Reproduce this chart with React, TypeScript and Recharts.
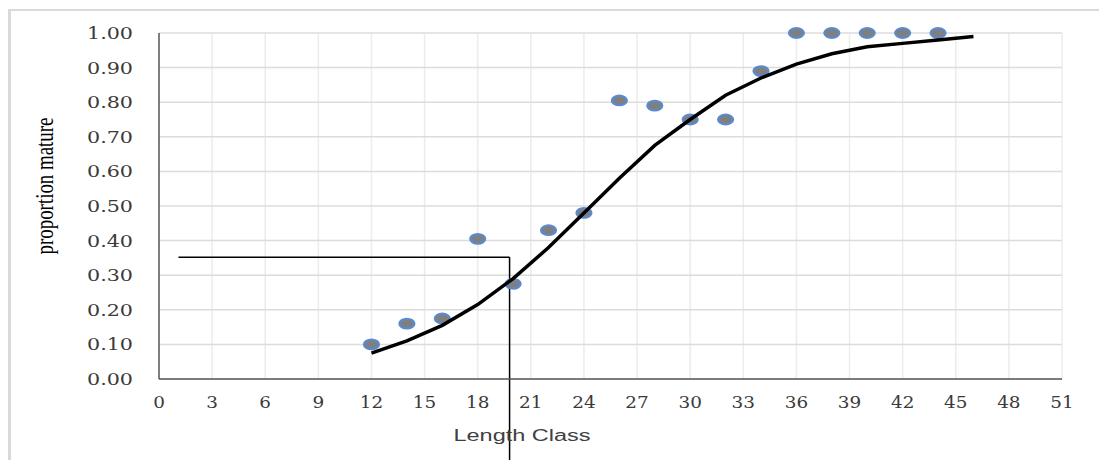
import React from 'react';
import { ComposedChart, Scatter, XAxis, YAxis, CartesianGrid, ReferenceLine, Label } from 'recharts';

// observed proportion mature per length class
const lengthClass = [12, 14, 16, 18, 20, 22, 24, 26, 28, 30, 32, 34, 36, 38, 40, 42, 44];
const observed = [0.1, 0.16, 0.175, 0.405, 0.275, 0.43, 0.48, 0.805, 0.79, 0.75, 0.75, 0.89, 1, 1, 1, 1, 1];

// fitted logistic curve
const fitLength = [12, 14, 16, 18, 20, 22, 24, 26, 28, 30, 32, 34, 36, 38, 40, 42, 44, 46];
const fitted = [0.075, 0.11, 0.155, 0.215, 0.29, 0.38, 0.48, 0.58, 0.675, 0.75, 0.82, 0.87, 0.91, 0.94, 0.96, 0.97, 0.98, 0.99];

// L50 guide lines
const guideStartX = 1.1;
const guideX = 19.8;
const guideY = 0.352;
const guideBottomY = -0.3;

const xTicks = [0, 3, 6, 9, 12, 15, 18, 21, 24, 27, 30, 33, 36, 39, 42, 45, 48, 51];
const yTicks = [0, 0.1, 0.2, 0.3, 0.4, 0.5, 0.6, 0.7, 0.8, 0.9, 1.0];

const obsData = lengthClass.map((x, i) => ({ x, y: observed[i] }));
const fitData = fitLength.map((x, i) => ({ x, y: fitted[i] }));

const tickFont = 'DejaVu Serif';

const XTick = (props: any) => {
  const label = String(props.payload.value);
  return (
    <text
      x={props.x}
      y={props.y + 21}
      textAnchor="middle"
      fontFamily={tickFont}
      fontSize={16}
      fill="#3a3a3a"
      textLength={label.length * 11.7}
      lengthAdjust="spacingAndGlyphs"
    >
      {label}
    </text>
  );
};

const YTick = (props: any) => {
  const label = Number(props.payload.value).toFixed(2);
  return (
    <text
      x={props.x - 18}
      y={props.y + 6}
      textAnchor="end"
      fontFamily={tickFont}
      fontSize={16}
      fill="#3a3a3a"
      textLength={46}
      lengthAdjust="spacingAndGlyphs"
    >
      {label}
    </text>
  );
};

const YTitle = (props: any) => {
  const vb = props.viewBox;
  const cx = vb.x - 55;
  const cy = vb.y + 153;
  return (
    <text
      x={cx}
      y={cy}
      transform={`rotate(-90 ${cx} ${cy})`}
      textAnchor="middle"
      dominantBaseline="central"
      fontFamily="Liberation Serif"
      fontSize={25}
      fill="#000"
      textLength={137}
      lengthAdjust="spacingAndGlyphs"
    >
      proportion mature
    </text>
  );
};

const XTitle = (props: any) => {
  const vb = props.viewBox;
  return (
    <text
      x={vb.x + 363}
      y={vb.y + 62}
      textAnchor="middle"
      fontFamily="Liberation Sans"
      fontSize={16}
      fill="#404040"
      textLength={137}
      lengthAdjust="spacingAndGlyphs"
    >
      Length Class
    </text>
  );
};

const Dot = (props: any) => (
  <ellipse cx={props.cx} cy={props.cy} rx={7.5} ry={4.8} fill="#7f7f7f" stroke="#5a8bd0" strokeWidth={2.2} />
);

export default function App() {
  return (
    <div style={{ position: 'fixed', left: 0, top: 0, width: 1099, height: 460, overflow: 'hidden', background: '#fff' }}>
      <div
        style={{
          position: 'absolute',
          left: 8,
          top: 9,
          width: 1200,
          height: 600,
          borderTop: '2px solid #d9d9d9',
          borderLeft: '3px solid #d9d9d9',
        }}
      />
      <div style={{ position: 'absolute', left: 0, top: 0 }}>
        <ComposedChart width={1099} height={460} margin={{ top: 33, right: 37, bottom: 51, left: 99 }}>
          <CartesianGrid horizontal={false} stroke="#ececec" strokeWidth={1.5} />
          <CartesianGrid vertical={false} stroke="#dcdcdc" strokeWidth={1.5} />
          <XAxis
            type="number"
            dataKey="x"
            domain={[0, 51]}
            ticks={xTicks}
            interval={0}
            height={30}
            tickLine={false}
            axisLine={{ stroke: '#595959', strokeWidth: 1.5 }}
            tick={<XTick />}
          >
            <Label content={<XTitle />} />
          </XAxis>
          <YAxis
            type="number"
            dataKey="y"
            domain={[0, 1]}
            ticks={yTicks}
            interval={0}
            width={60}
            tickLine={false}
            axisLine={{ stroke: '#595959', strokeWidth: 1.5 }}
            tick={<YTick />}
          >
            <Label content={<YTitle />} />
          </YAxis>
          <ReferenceLine
            segment={[{ x: guideStartX, y: guideY }, { x: guideX, y: guideY }]}
            stroke="#000"
            strokeWidth={1.5}
            ifOverflow="visible"
          />
          <ReferenceLine
            segment={[{ x: guideX, y: guideY }, { x: guideX, y: guideBottomY }]}
            stroke="#000"
            strokeWidth={1.5}
            ifOverflow="visible"
          />
          <Scatter data={obsData} shape={<Dot />} isAnimationActive={false} />
          <Scatter
            data={fitData}
            line={{ stroke: '#000', strokeWidth: 3.5 }}
            lineJointType="linear"
            shape={() => <g />}
            isAnimationActive={false}
          />
        </ComposedChart>
      </div>
    </div>
  );
}
